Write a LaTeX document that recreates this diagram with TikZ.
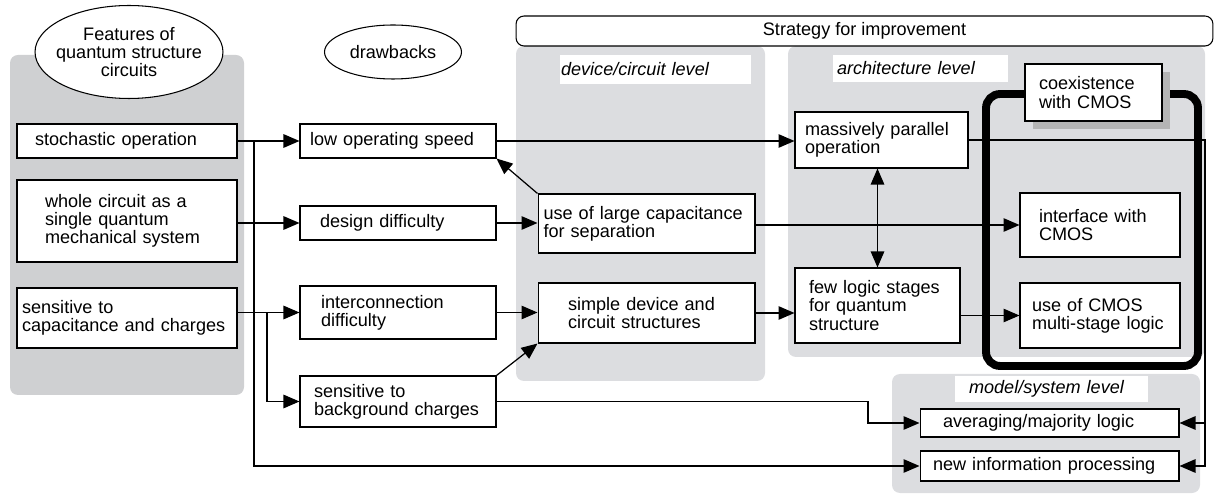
\documentclass[tikz,border=0pt]{standalone}
\usepackage{fontspec}
\setmainfont{Liberation Sans}
\usetikzlibrary{arrows.meta,calc,shapes.geometric,shadows}

\definecolor{panelgray}{HTML}{DCDDE0}
\definecolor{featgray}{HTML}{CFD0D2}
\definecolor{shadowgray}{HTML}{B4B4B4}

\begin{document}
\begin{tikzpicture}[
		x=0.02cm, y=-0.02cm,
		font=\fontsize{10.3}{10.4}\selectfont,
		box/.style={rectangle, draw=black, line width=0.6pt, fill=white, align=left, inner ysep=0pt},
		oval/.style={ellipse, draw=black, line width=0.6pt, fill=white, inner sep=0pt},
		leveltag/.style={rectangle, fill=white, align=left, inner ysep=0pt, font=\fontsize{10.3}{10.4}\selectfont\itshape},
		panel/.style={rounded corners=0.16cm},
		arrow/.style={line width=0.7pt, ->, >={Triangle[length=0.32cm,width=0.27cm]}}
		]
		\useasboundingbox (0,0) rectangle (1214,496);
		
		% grey panels
		\fill [panel, featgray] (10,55) rectangle (244,395);
		\fill [panel, panelgray] (516,46) rectangle (765,381);
		\fill [panel, panelgray] (788,46) rectangle (1205,357);
		\fill [panel, panelgray] (892,374) rectangle (1200,493);
		
		\node (features) at (129,52) [oval, minimum width=3.76cm, minimum height=1.86cm, label={[align=center]center:Features of\\quantum structure\\circuits}] {};
		\node (drawbacks) at (393,52) [oval, minimum width=2.74cm, minimum height=1.08cm] {drawbacks};
		\node (strategy) at (864.5,31) [box, rounded corners=0.16cm, align=center, minimum width=13.94cm, minimum height=0.6cm] {Strategy for improvement};
		
		\node (devtag) at (655.5,69.5) [leveltag, minimum height=0.58cm, text width=3.78cm, inner xsep=0.02cm] {device/circuit level};
		\node (archtag) at (920.5,68.5) [leveltag, minimum height=0.54cm, text width=3.34cm, inner xsep=0.08cm] {architecture level};
		\node (modeltag) at (1051.5,389) [leveltag, minimum height=0.52cm, text width=3.3cm, inner xsep=0.28cm] {model/system level};
		
		% CMOS frame
		\node (cmosframe) at (1092,230) [draw, line width=4.5pt, rounded corners=0.28cm, minimum width=4.24cm, minimum height=5.44cm] {};
		\node (coexist) at (1093.5,92.5) [box, drop shadow={shadow xshift=0.16cm, shadow yshift=-0.16cm, fill=shadowgray, opacity=1}, minimum height=1.14cm, text width=2.18cm, inner xsep=0.28cm] {coexistence\\with CMOS};
		
		\node (stoch) at (127,141) [box, minimum height=0.68cm, text width=3.68cm, inner xsep=0.36cm] {stochastic operation};
		\node (whole) at (127,221) [box, minimum height=1.64cm, text width=3.28cm, inner xsep=0.56cm] {whole circuit as a\\single quantum\\mechanical system};
		\node (sens) at (127,318) [box, minimum height=1.2cm, text width=4.2cm, inner xsep=0.1cm] {sensitive to\\capacitance and charges};
		
		\node (lowspeed) at (398,141) [box, minimum height=0.68cm, text width=3.52cm, inner xsep=0.2cm] {low operating speed};
		\node (design) at (398,223) [box, minimum height=0.68cm, text width=3.12cm, inner xsep=0.4cm] {design difficulty};
		\node (interconn) at (398,312.5) [box, minimum height=1.06cm, text width=3.08cm, inner xsep=0.42cm] {interconnection\\difficulty};
		\node (backgr) at (398,401.5) [box, minimum height=1.02cm, text width=3.36cm, inner xsep=0.28cm] {sensitive to\\background charges};
		
		\node (largecap) at (646.5,223.5) [box, minimum height=1.18cm, text width=4.12cm, inner xsep=0.11cm] {use of large capacitance\\for separation};
		\node (simple) at (646.5,313) [box, minimum height=1.2cm, text width=3.14cm, inner xsep=0.6cm] {simple device and\\circuit structures};
		
		\node (parallel) at (881.5,140) [box, minimum height=1.12cm, text width=3.06cm, inner xsep=0.2cm] {massively parallel\\operation};
		\node (fewlogic) at (877.5,305.5) [box, minimum height=1.5cm, text width=2.74cm, inner xsep=0.28cm] {few logic stages\\for quantum\\structure};
		\node (interface) at (1100,225) [box, minimum height=1.28cm, text width=2.44cm, inner xsep=0.38cm] {interface with\\CMOS};
		\node (cmoslogic) at (1100,315.5) [box, minimum height=1.3cm, text width=2.72cm, inner xsep=0.24cm] {use of CMOS\\multi-stage logic};
		
		\node (averaging) at (1049.5,423) [box, minimum height=0.56cm, text width=4.26cm, inner xsep=0.46cm] {averaging/majority logic};
		\node (newinfo) at (1049.5,466) [box, minimum height=0.6cm, text width=4.66cm, inner xsep=0.26cm] {new information processing};
		
		% connectors
		\coordinate (j1) at (254,141);
		\coordinate (j2) at (267,312.5);
		\coordinate (avgin) at (868,423);
		\coordinate (bus) at (1205,140);
		
		\draw [arrow] (stoch) -- (lowspeed);
		\draw [arrow] (j1) |- (newinfo.west);
		\draw [arrow] (whole.east |- design.west) -- (design.west);
		\draw [arrow] (sens.east |- interconn.west) -- (interconn.west);
		\draw [arrow] (j2) |- (backgr.west);
		\draw [arrow] (lowspeed.east) -- (lowspeed.east -| parallel.west);
		\draw [arrow] (largecap.north west) -- (lowspeed.south east);
		\draw [arrow] (design.east) -- (design.east -| largecap.west);
		\draw [arrow] (largecap.east |- interface.west) -- (interface.west);
		\draw [arrow] (interconn.east) -- (interconn.east -| simple.west);
		\draw [arrow] (backgr.north east) -- (simple.south west);
		\draw [arrow] (simple.east) -- (simple.east -| fewlogic.west);
		\draw [arrow, <->] (fewlogic.north) -- (fewlogic.north |- parallel.south);
		\draw [arrow] (fewlogic.east |- cmoslogic.west) -- (cmoslogic.west);
		\draw [arrow] (backgr.east) -| (avgin) -- (averaging.west);
		\draw [arrow] (parallel.east) -- (bus) |- (newinfo.east);
		\draw [arrow] (bus |- averaging.east) -- (averaging.east);
	\end{tikzpicture}
\end{document}
